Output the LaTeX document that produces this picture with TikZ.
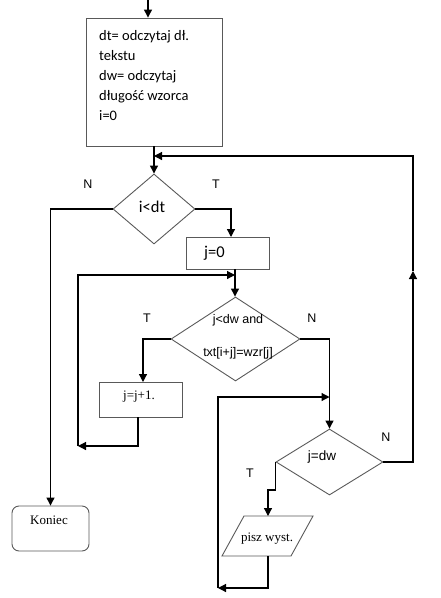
\documentclass[tikz,border=0pt]{standalone}
\usepackage{fontspec}
\newfontfamily\fcal{Carlito}
\newfontfamily\farial{Liberation Sans}
\newfontfamily\ftimes{Liberation Serif}
\usetikzlibrary{arrows.meta,shapes.geometric,calc}
\begin{document}
\begin{tikzpicture}[x=1pt,y=-1pt,
  shp/.style={draw=black!65,line width=0.9pt,inner sep=0pt},
  conn/.style={draw=black,line width=1.2pt},
  arr/.style={conn,-{Triangle[length=8pt,width=8pt]}},
  lbl/.style={font=\farial\fontsize{12.5}{14}\selectfont,inner sep=0pt},
  caltxt/.style={font=\fcal\fontsize{16.5}{18}\selectfont,inner sep=0pt},
  ariatxt/.style={font=\farial\fontsize{12.5}{14}\selectfont,inner sep=0pt},
  timtxt/.style={font=\ftimes\fontsize{13}{15}\selectfont,inner sep=0pt},
  dia/.style={shp,diamond}
]
\useasboundingbox (0,0) rectangle (440,598);

% nodes
\node[shp,minimum width=136pt,minimum height=128pt] (init) at (154,82) {};
\node[anchor=north west,align=left,inner sep=0pt,
      font=\fcal\fontsize{14.5}{20}\selectfont] (initT) at (99,30)
  {dt= odczytaj dł.\\tekstu\\dw= odczytaj\\długość wzorca\\i=0};

\node[dia,minimum width=82pt,minimum height=70pt] (d1) at (154,209) {};
\node[caltxt] (d1T) at (152,207) {i<dt};

\node[shp,minimum width=83pt,minimum height=32pt] (j0) at (227.5,253) {};
\node[caltxt,anchor=west] (j0T) at (204,253) {j=0};

\node[dia,minimum width=129pt,minimum height=84pt] (d2) at (235.5,339) {};
\node[ariatxt] (d2Ta) at (238,320) {j<dw and};
\node[ariatxt] (d2Tb) at (238,353) {txt[i+j]=wzr[j]};

\node[shp,minimum width=83pt,minimum height=35pt] (jj) at (140.5,399.5) {};
\node[timtxt] (jjT) at (139,397) {j=j+1.};

\node[dia,minimum width=107pt,minimum height=66pt] (d3) at (329.5,462) {};
\node[ariatxt,font=\farial\fontsize{13.5}{15}\selectfont] (d3T) at (322,457) {j=dw};

\node[shp,rounded corners=7pt,minimum width=77pt,minimum height=45pt] (kon) at (50.5,528.5) {};
\node[timtxt] (konT) at (49,520) {Koniec};

\coordinate (paraTop) at (268,516);
\coordinate (paraBot) at (268,556);
\draw[shp] (244,516) -- (313,516) -- (291,556) -- (222,556) -- cycle;
\node[timtxt] (paraT) at (267,539) {pisz wyst.};

% labels
\node[lbl] (n1) at (88,184) {N};
\node[lbl] (t1) at (216,184) {T};
\node[lbl] (t2) at (147,318) {T};
\node[lbl] (n2) at (312,318) {N};
\node[lbl] (n3) at (386,437) {N};
\node[lbl] (t3) at (250,473) {T};

% connectors
\coordinate (start) at (148,0);
\draw[arr] (start) -- (start |- init.north);
\draw[arr] (init.south) -- (d1.north);
\draw[arr] (d1.west) -| (kon.north);
\coordinate (j0in) at (231,237);
\draw[arr] (d1.east) -| (j0in);
\coordinate (j0out) at (235,269);
\draw[arr] (j0out) -- (j0out |- d2.north);
\coordinate (jjin) at (143,382);
\draw[arr] (d2.west) -| (jjin);
\coordinate (jjout) at (138,417);
\coordinate (lp1) at (78,446);
\coordinate (lp1e) at (235,275);
\draw[arr] (jjout) |- (lp1);
\draw[arr] (lp1) |- (lp1e);
\draw[arr] (d2.east) -| (d3.north);
\draw[arr] (d3.west) -- ++(0,28) -| (paraTop);
\coordinate (lp2) at (218,588);
\coordinate (lp2e) at (329.5,397);
\draw[arr] (paraBot) |- (lp2);
\draw[arr] (lp2) |- (lp2e);
\coordinate (rup) at (413,271);
\coordinate (rend) at (154,156);
\draw[arr] (d3.east) -| (rup);
\draw[arr] (rup) |- (rend);
\end{tikzpicture}
\end{document}
